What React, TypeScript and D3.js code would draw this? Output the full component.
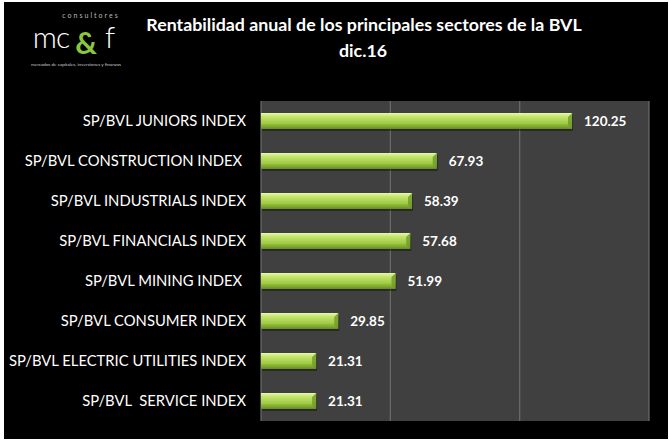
import React from 'react'
import * as d3 from 'd3'

const sectors = [
  'SP/BVL JUNIORS INDEX',
  'SP/BVL CONSTRUCTION INDEX ',
  'SP/BVL INDUSTRIALS INDEX',
  'SP/BVL FINANCIALS INDEX',
  'SP/BVL MINING INDEX ',
  'SP/BVL CONSUMER INDEX',
  'SP/BVL ELECTRIC UTILITIES INDEX',
  'SP/BVL  SERVICE INDEX'
]
const returns = [120.25, 67.93, 58.39, 57.68, 51.99, 29.85, 21.31, 21.31]
const gridTicks = [0, 50, 100, 150]

const W = 669
const H = 442
const plot = { left: 261, right: 649, top: 101, bottom: 421 }
const font = 'Lato, "Open Sans", sans-serif'

export default function App() {
  const x = d3.scaleLinear().domain([0, 150]).range([plot.left, plot.right])
  const y = d3
    .scaleBand()
    .domain(sectors)
    .range([plot.top, plot.bottom])
    .paddingInner(0.6)
    .paddingOuter(0.3)
  const bh = y.bandwidth()

  return (
    <div style={{ position: 'absolute', left: 0, top: 0 }}>
      <svg width={W} height={H} style={{ display: 'block' }}>
        <defs>
          <linearGradient id="barGrad" x1="0" y1="0" x2="0" y2="1">
            <stop offset="0%" stopColor="#e6f8ad" />
            <stop offset="25%" stopColor="#c0e468" />
            <stop offset="70%" stopColor="#9cc640" />
            <stop offset="100%" stopColor="#638a22" />
          </linearGradient>
        </defs>
        <rect x={0} y={0} width={W} height={H} fill="#fff" />
        <rect x={4} y={2} width={664} height={437} fill="#000" />

        {/* logo */}
        <g fontFamily={font}>
          <text x={91} y={18} fill="#bbb" fontSize={7} textAnchor="middle" letterSpacing={2}>
            consultores
          </text>
          <text x={51} y={48} fill="#fff" fontSize={30} fontWeight={300} textAnchor="middle" letterSpacing={-1}>
            mc
          </text>
          <text x={86} y={54} fill="#8cc63f" fontSize={30} fontWeight={700} textAnchor="middle">
            &amp;
          </text>
          <text x={110} y={48} fill="#fff" fontSize={30} fontWeight={300} textAnchor="middle">
            f
          </text>
          <text x={76} y={66} fill="#ccc" fontSize={4.6} textAnchor="middle">
            mercados de capitales, inversiones y finanzas
          </text>
        </g>

        {/* title */}
        <g fontFamily={font} fill="#fff" fontWeight={700} textAnchor="middle">
          <text x={364} y={31} fontSize={17.8}>
            Rentabilidad anual de los principales sectores de la BVL
          </text>
          <text x={363} y={57} fontSize={17.8}>
            dic.16
          </text>
        </g>

        {/* plot area */}
        <rect
          x={plot.left}
          y={plot.top}
          width={plot.right - plot.left}
          height={plot.bottom - plot.top}
          fill="#404040"
        />
        {gridTicks.map(t => (
          <line
            key={t}
            x1={x(t)}
            x2={x(t)}
            y1={plot.top}
            y2={plot.bottom}
            stroke="#6c6c6c"
            strokeWidth={1.2}
          />
        ))}

        {sectors.map((s, i) => {
          const by = y(s) as number
          const x0 = x(0)
          const x1 = x(returns[i])
          const bev = 4
          return (
            <g key={s}>
              <rect x={x0 + 1} y={by + 2} width={x1 - x0} height={bh} fill="#000" opacity={0.35} />
              <rect x={x0} y={by} width={x1 - x0} height={bh} fill="url(#barGrad)" />
              <polygon
                points={`${x1 - bev},${by + bev} ${x1},${by} ${x1},${by + bh} ${x1 - bev},${by + bh - bev}`}
                fill="#6f9a28"
                opacity={0.8}
              />
              <line x1={x0} x2={x1 - bev} y1={by + bh - bev} y2={by + bh - bev} stroke="#84ad34" strokeWidth={0.8} />
              <text
                x={x1 + 12}
                y={by + bh / 2 + 4.5}
                fill="#fff"
                fontFamily={font}
                fontWeight={700}
                fontSize={13.5}
              >
                {returns[i].toFixed(2)}
              </text>
              <text
                x={246}
                y={by + bh / 2 + 5}
                fill="#fff"
                fontFamily={font}
                fontSize={14.8}
                textAnchor="end"
                style={{ whiteSpace: 'pre' }}
              >
                {s}
              </text>
            </g>
          )
        })}
      </svg>
    </div>
  )
}
